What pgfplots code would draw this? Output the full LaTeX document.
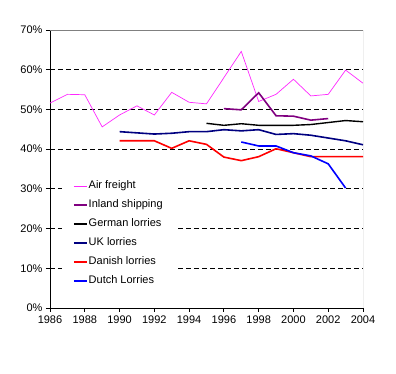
\documentclass[border=0pt]{standalone}
\usepackage{fontspec}
\setmainfont{Liberation Sans}
\usepackage{pgfplots}
\pgfplotsset{compat=1.18}
\definecolor{airc}{RGB}{255,40,255}
\definecolor{inlc}{RGB}{128,0,128}
\definecolor{ukc}{RGB}{0,0,128}
\definecolor{dkc}{RGB}{255,0,0}
\definecolor{nlc}{RGB}{0,0,255}
\begin{document}
\begin{tikzpicture}[x=1pt,y=1pt]
\begin{axis}[
  at={(0,0)}, anchor=south west,
  scale only axis, width=313pt, height=278pt,
  xmin=1986, xmax=2004, ymin=0, ymax=70,
  axis x line*=bottom, axis y line*=left,
  axis line style={black, line width=0.9pt, -},
  xtick={1986,1988,1990,1992,1994,1996,1998,2000,2002,2004},
  xticklabels={1986,1988,1990,1992,1994,1996,1998,2000,2002,2004},
  ytick={0,10,20,30,40,50,60,70},
  yticklabels={0\%,10\%,20\%,30\%,40\%,50\%,60\%,70\%},
  tick align=outside, major tick length=4pt,
  tick style={black, line width=0.8pt},
  ticklabel style={font=\fontsize{11}{13}\selectfont},
  legend style={at={(0.038,0.483)}, anchor=north west, draw=none, fill=white,
    font=\fontsize{11}{13}\selectfont, row sep=2.5pt, inner xsep=11pt, inner ysep=4pt,
    nodes={inner sep=1pt, text height=10pt, text depth=4.5pt}},
  legend cell align=left,
  legend image code/.code={\draw[#1] (0pt,0pt) -- (13pt,0pt);},
]
\pgfplotsinvokeforeach{10,20,30,40,50,60}{
  \draw[black, line width=0.8pt, dash pattern=on 5pt off 3pt] (axis cs:1986,#1) -- (axis cs:2004,#1);
}
\draw[gray, line width=0.8pt] (rel axis cs:0,1) -- (rel axis cs:1,1) -- (rel axis cs:1,0);

\addplot[airc, line width=0.7pt] coordinates {
(1986,51.6) (1987,53.8) (1988,53.7) (1989,45.6) (1990,48.6) (1991,50.9)
(1992,48.6) (1993,54.3) (1994,51.8) (1995,51.4) (1996,58.0) (1997,64.6)
(1998,52.0) (1999,53.8) (2000,57.6) (2001,53.4) (2002,53.8) (2003,59.9) (2004,56.6)};
\addlegendentry{Air freight}

\addplot[inlc, line width=1.6pt] coordinates {
(1996,50.2) (1997,49.9) (1998,54.2) (1999,48.4) (2000,48.3) (2001,47.3) (2002,47.7)};
\addlegendentry{Inland shipping}

\addplot[black, line width=1.4pt] coordinates {
(1995,46.5) (1996,46.0) (1997,46.4) (1998,46.0) (1999,46.0) (2000,46.0)
(2001,46.2) (2002,46.7) (2003,47.2) (2004,46.9)};
\addlegendentry{German lorries}

\addplot[ukc, line width=1.6pt] coordinates {
(1990,44.4) (1991,44.1) (1992,43.8) (1993,44.0) (1994,44.4) (1995,44.4)
(1996,44.9) (1997,44.6) (1998,44.9) (1999,43.7) (2000,43.9) (2001,43.5)
(2002,42.8) (2003,42.1) (2004,41.1)};
\addlegendentry{UK lorries}

\addplot[dkc, line width=1.6pt] coordinates {
(1990,42.1) (1991,42.1) (1992,42.1) (1993,40.2) (1994,42.1) (1995,41.2)
(1996,38.0) (1997,37.1) (1998,38.1) (1999,40.1) (2000,39.1) (2001,38.1)
(2002,38.1) (2003,38.1) (2004,38.1)};
\addlegendentry{Danish lorries}

\addplot[nlc, line width=1.6pt] coordinates {
(1997,41.8) (1998,40.8) (1999,40.8) (2000,39.1) (2001,38.3) (2002,36.3) (2003,30.2)};
\addlegendentry{Dutch Lorries}
\end{axis}
\pgfresetboundingbox
\path[use as bounding box] (-50pt,-66pt) rectangle (346pt,308pt);
\end{tikzpicture}
\end{document}
